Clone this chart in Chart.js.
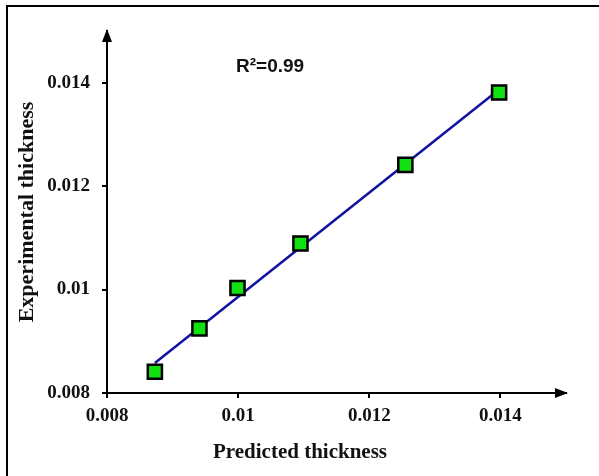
<!DOCTYPE html>
<html lang="en">
<head>
    <meta charset="UTF-8">
    <title>Predicted vs experimental thickness</title>
    <script src="https://cdn.jsdelivr.net/npm/chart.js"></script>
    <style>
        html, body { margin: 0; padding: 0; background: #fff; }
        #wrap { width: 599px; height: 476px; }
    </style>
</head>
<body>
    <div id="wrap"><canvas id="thicknessChart" width="599" height="476"></canvas></div>

    <script>
        // values
        const predicted = [0.00873, 0.00941, 0.00999, 0.01095, 0.01255, 0.01398];
        const experimental = [0.00841, 0.00925, 0.01003, 0.01089, 0.01241, 0.01381];

        // fitted line end points
        const fitX = [0.00873, 0.01398];
        const fitY = [0.00858, 0.01387];

        const tickVals = [0.008, 0.01, 0.012, 0.014];
        const tickLabels = ['0.008', '0.01', '0.012', '0.014'];
        const r2Label = 'R\u00B2=0.99';
        const xTitle = 'Predicted thickness';

        const serifBold = { family: "'Liberation Serif', 'Times New Roman', serif", weight: 'bold' };

        // frame, arrow heads, x title and the R² note
        const decorations = {
            id: 'decorations',
            beforeDraw(chart) {
                const ctx = chart.ctx;
                ctx.save();
                ctx.fillStyle = '#fff';
                ctx.fillRect(0, 0, chart.width, chart.height);
                ctx.strokeStyle = '#000';
                ctx.lineWidth = 2;
                ctx.strokeRect(7, 6, 800, 800);
                ctx.restore();
            },
            afterDraw(chart) {
                const ctx = chart.ctx;
                const a = chart.chartArea;
                ctx.save();
                ctx.fillStyle = '#000';
                // y arrow
                ctx.beginPath();
                ctx.moveTo(a.left, a.top - 2);
                ctx.lineTo(a.left - 5, a.top + 11);
                ctx.lineTo(a.left + 5, a.top + 11);
                ctx.closePath();
                ctx.fill();
                // x arrow
                ctx.beginPath();
                ctx.moveTo(a.right + 2, a.bottom);
                ctx.lineTo(a.right - 11, a.bottom - 5);
                ctx.lineTo(a.right - 11, a.bottom + 5);
                ctx.closePath();
                ctx.fill();
                // x axis title, centred on the whole picture like the original
                ctx.fillStyle = '#111';
                ctx.font = "bold 21px 'Liberation Serif', 'Times New Roman', serif";
                ctx.textAlign = 'center';
                ctx.textBaseline = 'alphabetic';
                ctx.fillText(xTitle, 300, 458);
                // R² text
                ctx.font = "bold 19px 'Liberation Sans', Arial, sans-serif";
                ctx.textAlign = 'left';
                ctx.textBaseline = 'middle';
                ctx.fillText(r2Label, 236, 67);
                ctx.restore();
            }
        };

        const ctx = document.getElementById('thicknessChart').getContext('2d');
        new Chart(ctx, {
            type: 'scatter',
            data: {
                datasets: [
                    {
                        label: 'Data',
                        data: predicted.map((x, i) => ({ x: x, y: experimental[i] })),
                        pointStyle: 'rect',
                        pointRadius: 10,
                        backgroundColor: '#11e011',
                        borderColor: '#000',
                        borderWidth: 2.5,
                        showLine: false,
                        order: 1
                    },
                    {
                        label: 'Fit',
                        data: fitX.map((x, i) => ({ x: x, y: fitY[i] })),
                        showLine: true,
                        borderColor: '#1212a0',
                        borderWidth: 2.5,
                        pointRadius: 0,
                        fill: false,
                        order: 2
                    }
                ]
            },
            options: {
                responsive: false,
                animation: false,
                layout: { padding: { left: 0, top: 31, right: 33, bottom: 0 } },
                plugins: {
                    legend: { display: false },
                    tooltip: { enabled: false },
                    title: { display: false }
                },
                scales: {
                    x: {
                        type: 'linear',
                        min: 0.008,
                        max: 0.015,
                        afterBuildTicks: axis => { axis.ticks = tickVals.map(v => ({ value: v })); },
                        afterFit: axis => { axis.height = 83; },
                        grid: { display: true, drawOnChartArea: false, tickLength: 5, color: '#000', lineWidth: 2 },
                        border: { display: true, color: '#000', width: 2 },
                        ticks: {
                            color: '#111',
                            font: { ...serifBold, size: 19 },
                            padding: 7,
                            maxRotation: 0,
                            callback: v => tickLabels[tickVals.indexOf(v)]
                        }
                    },
                    y: {
                        type: 'linear',
                        min: 0.008,
                        max: 0.015,
                        afterBuildTicks: axis => { axis.ticks = tickVals.map(v => ({ value: v })); },
                        afterFit: axis => { axis.width = 107; },
                        grid: { display: true, drawOnChartArea: false, tickLength: 5, color: '#000', lineWidth: 2 },
                        border: { display: true, color: '#000', width: 2 },
                        title: {
                            display: true,
                            text: 'Experimental thickness',
                            color: '#111',
                            font: { ...serifBold, size: 22 },
                            padding: { top: 14, bottom: 0 }
                        },
                        ticks: {
                            color: '#111',
                            font: { ...serifBold, size: 19 },
                            padding: 12,
                            callback: v => tickLabels[tickVals.indexOf(v)]
                        }
                    }
                }
            },
            plugins: [decorations]
        });
    </script>
</body>
</html>
